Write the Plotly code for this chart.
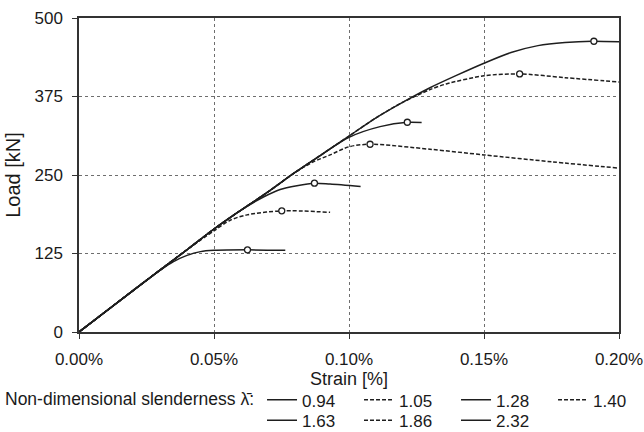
import plotly.graph_objects as go

# ---- data (strain in %, load in kN) ----
labels = ["0.94", "1.05", "1.28", "1.40", "1.63", "1.86", "2.32"]
dashes = ["solid", "dash", "solid", "dash", "solid", "dash", "solid"]
legend_ids = ["legend", "legend", "legend", "legend", "legend2", "legend2", "legend2"]

strain_094 = [0, 0.02, 0.04, 0.05, 0.06, 0.07, 0.08, 0.09, 0.10, 0.11, 0.12, 0.13, 0.14, 0.15, 0.16, 0.17, 0.18, 0.19, 0.20]
load_094 = [0, 66, 131, 164, 194, 223, 254, 283, 312, 341, 366, 389, 409, 428, 445, 456, 461, 463, 462]

strain_105 = [0, 0.02, 0.04, 0.05, 0.06, 0.07, 0.08, 0.09, 0.10, 0.11, 0.12, 0.13, 0.136, 0.15, 0.163, 0.18, 0.20]
load_105 = [0, 66, 131, 164, 194, 223, 254, 283, 312, 341, 366, 386, 395, 408, 411, 405, 398]

strain_128 = [0, 0.02, 0.04, 0.05, 0.06, 0.07, 0.08, 0.09, 0.10, 0.1115, 0.1216, 0.1269]
load_128 = [0, 66, 131, 164, 194, 223, 254, 283, 310, 327, 334, 333.5]

strain_140 = [0, 0.02, 0.04, 0.05, 0.06, 0.07, 0.08, 0.0868, 0.093, 0.10, 0.1078, 0.13, 0.15, 0.175, 0.20]
load_140 = [0, 66, 131, 164, 194, 223, 254, 271, 282, 295, 299, 291, 282, 271, 261]

strain_163 = [0, 0.02, 0.04, 0.05, 0.06, 0.0683, 0.0745, 0.0807, 0.0872, 0.093, 0.1043]
load_163 = [0, 66, 131, 164, 194, 215, 227, 233, 237, 235.5, 231.5]

strain_186 = [0, 0.02, 0.04, 0.05, 0.056, 0.0622, 0.0751, 0.093]
load_186 = [0, 66, 131, 161, 178, 186.5, 193, 190.5]

strain_232 = [0, 0.02, 0.03, 0.035, 0.04, 0.045, 0.05, 0.0624, 0.0764]
load_232 = [0, 66, 98, 112, 122, 128, 130, 130.8, 130]

strains = [strain_094, strain_105, strain_128, strain_140, strain_163, strain_186, strain_232]
loads = [load_094, load_105, load_128, load_140, load_163, load_186, load_232]

peak_strain = [0.1907, 0.1632, 0.1216, 0.1078, 0.0872, 0.0751, 0.0624]
peak_load = [463, 411, 334, 299, 237, 193, 130.8]

x_ticks = [0, 0.05, 0.10, 0.15, 0.20]
y_ticks = [0, 125, 250, 375, 500]

LINE = "#1e1e1e"
FONT = "Liberation Sans, Arial, sans-serif"
FS = 17

fig = go.Figure()
for i, (xs, ys, lab, d, lg) in enumerate(zip(strains, loads, labels, dashes, legend_ids)):
    fig.add_trace(go.Scatter(
        x=xs, y=ys, mode="lines", name=lab, legend=lg,
        legendwidth=(36 if i == 3 else None),
        line=dict(color=LINE, width=1.5, dash=("4px,2px" if d == "dash" else "solid"),
                  shape="spline", smoothing=0.8),
        hoverinfo="skip"))

fig.add_trace(go.Scatter(
    x=peak_strain, y=peak_load, mode="markers", showlegend=False,
    marker=dict(symbol="circle", size=6, color="white",
                line=dict(color=LINE, width=1.3)),
    hoverinfo="skip"))

common_legend = dict(
    orientation="h", xref="container", yref="container",
    xanchor="left", yanchor="top",
    itemwidth=30, entrywidth=52, entrywidthmode="pixels",
    font=dict(size=FS), bgcolor="rgba(0,0,0,0)", borderwidth=0,
)

fig.update_layout(
    template="none",
    width=644, height=432,
    margin=dict(l=79, r=25, t=18, b=100, autoexpand=False),
    paper_bgcolor="white", plot_bgcolor="white",
    font=dict(family=FONT, size=FS, color="#1a1a1a"),
    legend=dict(common_legend, x=3 / 644, y=0.115,
                title=dict(text="Non-dimensional slenderness λ\u0304:", side="left",
                           font=dict(size=17.5))),
    legend2=dict(common_legend, x=262 / 644, y=0.068),
    annotations=[dict(text="Strain [%]", xref="paper", yref="paper",
                      x=0.5, y=-0.151, xanchor="center", yanchor="middle",
                      showarrow=False, font=dict(family=FONT, size=18))],
)

fig.update_xaxes(
    range=[0, 0.2], tickvals=x_ticks, ticktext=[f"{v:.2f}%" for v in x_ticks],
    showgrid=True, gridcolor="#6e6e6e", griddash="dot", gridwidth=1,
    showline=True, linecolor="#333", linewidth=1.5, mirror=True,
    ticks="outside", ticklen=5, tickcolor="#333",
    zeroline=False, automargin=False, ticklabelstandoff=6,
)
fig.update_yaxes(
    range=[0, 500], tickvals=y_ticks,
    showgrid=True, gridcolor="#6e6e6e", griddash="dot", gridwidth=1,
    showline=True, linecolor="#333", linewidth=1.5, mirror=True,
    ticks="outside", ticklen=5, tickcolor="#333",
    zeroline=False, automargin=False, ticklabelstandoff=6,
    title=dict(text="Load [kN]", standoff=8),
)

fig.write_html("out.html")
